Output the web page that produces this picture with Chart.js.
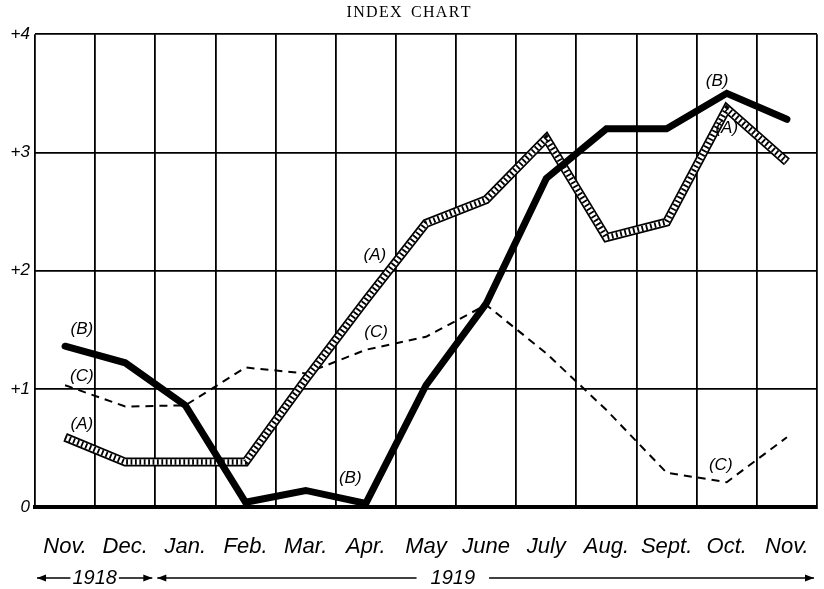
<!DOCTYPE html>
<html>
<head>
<meta charset="utf-8">
<script src="https://cdn.jsdelivr.net/npm/chart.js@4.4.1/dist/chart.umd.min.js"></script>
<style>
  html, body { margin: 0; padding: 0; background: #ffffff; }
  #wrap { width: 824px; height: 589px; position: relative; }
</style>
</head>
<body>
<div id="wrap"><canvas id="c"></canvas></div>
<script>
// ---- data ----
const months = ['Nov.', 'Dec.', 'Jan.', 'Feb.', 'Mar.', 'Apr.', 'May', 'June', 'July', 'Aug.', 'Sept.', 'Oct.', 'Nov.'];
const seriesA = [0.59, 0.38, 0.38, 0.38, 1.08, 1.75, 2.40, 2.60, 3.12, 2.28, 2.41, 3.37, 2.92];
const seriesB = [1.36, 1.22, 0.86, 0.04, 0.14, 0.03, 1.03, 1.72, 2.78, 3.20, 3.20, 3.50, 3.28];
const seriesC = [1.03, 0.85, 0.86, 1.18, 1.13, 1.33, 1.44, 1.71, 1.30, 0.82, 0.29, 0.21, 0.59];
const yTicks = [0, 1, 2, 3, 4];
const yTickLabels = ['0', '+1', '+2', '+3', '+4'];
const years = ['1918', '1919'];
const yearSpans = [[0, 1], [2, 12]];        // first and last month index of each year
const curveTags = ['(B)', '(C)', '(A)', '(A)', '(C)', '(B)', '(B)', '(A)', '(C)'];
const curveTagIndex = [0.28, 0.28, 0.28, 5.15, 5.17, 4.74, 10.84, 11.0, 10.9];
const curveTagValue = [1.50, 1.11, 0.70, 2.13, 1.48, 0.24, 3.60, 3.20, 0.35];

const handFont = "'Liberation Sans', 'DejaVu Sans', sans-serif";

const tagPlugin = {
  id: 'tags',
  afterDatasetsDraw(chart) {
    const ctx = chart.ctx, xs = chart.scales.x, ys = chart.scales.y;
    const step = xs.getPixelForValue(1) - xs.getPixelForValue(0);
    ctx.save();
    ctx.fillStyle = '#000';
    ctx.font = 'italic 17px ' + handFont;
    ctx.textAlign = 'center';
    ctx.textBaseline = 'middle';
    curveTags.forEach((t, i) => {
      const x = xs.getPixelForValue(0) + curveTagIndex[i] * step;
      const y = ys.getPixelForValue(curveTagValue[i]);
      ctx.fillText(t, x, y);
    });
    ctx.restore();
  },
  afterDraw(chart) {
    const ctx = chart.ctx, xs = chart.scales.x, area = chart.chartArea;
    const step = xs.getPixelForValue(1) - xs.getPixelForValue(0);
    const y = area.bottom + 71;
    ctx.save();
    ctx.strokeStyle = '#000';
    ctx.fillStyle = '#000';
    ctx.lineWidth = 1.6;
    ctx.font = 'italic 20px ' + handFont;
    ctx.textAlign = 'center';
    ctx.textBaseline = 'middle';
    function arrowHead(xTip, dir) {
      ctx.beginPath();
      ctx.moveTo(xTip, y);
      ctx.lineTo(xTip - dir * 9, y - 3.5);
      ctx.lineTo(xTip - dir * 9, y + 3.5);
      ctx.closePath();
      ctx.fill();
    }
    function hline(a, b) {
      ctx.beginPath(); ctx.moveTo(a, y); ctx.lineTo(b, y); ctx.stroke();
    }
    years.forEach((yr, i) => {
      const l = xs.getPixelForValue(yearSpans[i][0]) - step / 2 + 2;
      const r = xs.getPixelForValue(yearSpans[i][1]) + step / 2 - 3;
      const frac = i === 0 ? 0.5 : 0.45;
      const cx = l + (r - l) * frac;
      const tw = ctx.measureText(yr).width;
      const gap = i === 0 ? 2 : 14;
      ctx.fillText(yr, cx, y);
      hline(l, cx - tw / 2 - gap);
      hline(cx + tw / 2 + gap, r);
      arrowHead(l, -1);
      arrowHead(r, 1);
    });
    ctx.restore();
  }
};

new Chart(document.getElementById('c'), {
  type: 'line',
  data: {
    labels: months,
    datasets: [
      { label: 'B', data: seriesB, borderColor: '#000', borderWidth: 7, pointRadius: 0,
        borderJoinStyle: 'miter', borderCapStyle: 'round', tension: 0, order: 0 },
      { label: 'A hatch', data: seriesA, borderColor: '#000', borderWidth: 5.5, pointRadius: 0,
        borderDash: [1.8, 2.6], borderJoinStyle: 'miter', tension: 0, order: 1 },
      { label: 'A fill', data: seriesA, borderColor: '#fff', borderWidth: 5.5, pointRadius: 0,
        borderJoinStyle: 'miter', tension: 0, order: 2 },
      { label: 'A edge', data: seriesA, borderColor: '#000', borderWidth: 9, pointRadius: 0,
        borderJoinStyle: 'miter', tension: 0, order: 3 },
      { label: 'C', data: seriesC, borderColor: '#000', borderWidth: 2, pointRadius: 0,
        borderDash: [8, 6], tension: 0, order: 4 }
    ]
  },
  options: {
    responsive: true,
    maintainAspectRatio: false,
    animation: false,
    events: [],
    layout: { padding: { left: 0, right: 7, top: 0, bottom: 0 } },
    plugins: {
      legend: { display: false },
      tooltip: { enabled: false },
      title: {
        display: true,
        text: 'I N D E X   C H A R T'.replace(/ (?! )/g, '\u200A'),
        color: '#000',
        font: { family: "'Liberation Serif', 'DejaVu Serif', serif", size: 16, weight: 'normal' },
        padding: { top: 3, bottom: 12 }
      }
    },
    scales: {
      x: {
        type: 'category',
        offset: true,
        afterFit(scale) { scale.paddingLeft = 0; scale.paddingRight = 0; scale.height = 82; },
        grid: { display: true, offset: true, color: '#000', lineWidth: 1.8, drawTicks: false },
        border: { display: true, color: '#000', width: 4 },
        ticks: {
          color: '#000', padding: 27, maxRotation: 0, autoSkip: false,
          font: { family: handFont, size: 22, style: 'italic' }
        }
      },
      y: {
        min: 0, max: 4,
        afterBuildTicks(scale) { scale.ticks = yTicks.map(v => ({ value: v })); },
        afterFit(scale) { scale.width = 35; },
        grid: { color: '#000', lineWidth: 1.8, drawTicks: false },
        border: { display: false },
        ticks: {
          color: '#000', padding: 5,
          font: { family: handFont, size: 17, style: 'italic' },
          callback: (v) => yTickLabels[yTicks.indexOf(v)]
        }
      }
    }
  },
  plugins: [tagPlugin]
});
</script>
</body>
</html>
